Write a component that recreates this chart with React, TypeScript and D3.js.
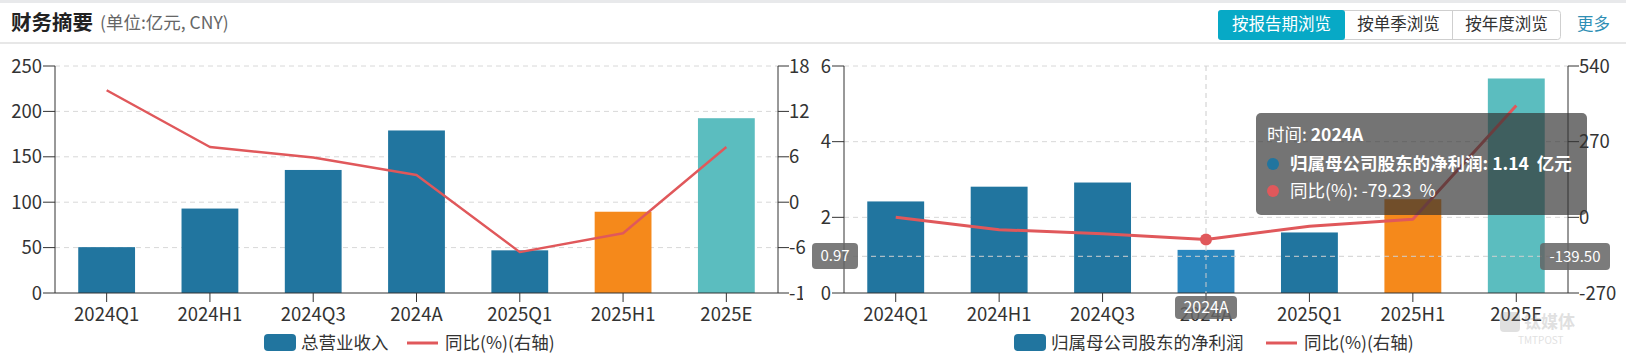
import React from "react";
import * as d3 from "d3";

const categories = ["2024Q1", "2024H1", "2024Q3", "2024A", "2025Q1", "2025H1", "2025E"];
const revenue = [50.5, 93, 135.5, 179, 47, 89.5, 192.5];
const revenueYoY = [14.8, 7.3, 5.9, 3.6, -6.6, -4.1, 7.3];
const profit = [2.42, 2.81, 2.92, 1.14, 1.6, 2.48, 5.67];
const profitYoY = [0, -44, -59, -79.23, -32, -7, 399];
const leftTicks = [0, 50, 100, 150, 200, 250];
const leftRTicks = [-12, -6, 0, 6, 12, 18];
const rightTicks = [0, 2, 4, 6];
const rightRTicks = [-270, 0, 270, 540];
const barColors = ["#21759f", "#21759f", "#21759f", "#21759f", "#21759f", "#f5891b", "#5bbdbf"];
const buttons = ["按报告期浏览", "按单季浏览", "按年度浏览"];

const FONT = "'Noto Sans CJK SC', 'Noto Sans', sans-serif";
const TOP = 66;
const BOT = 293;
const AX = 18.5;

function Panel(props: {
  x0: number; x1: number; bars: number[]; line: number[];
  lDomain: [number, number]; rDomain: [number, number];
  lTicks: number[]; rTicks: number[]; legend: string; legendX: number; lineLegendX: number;
  hover?: number; clipRight: number; lineWidth: number;
}) {
  const { x0, x1, bars, line, lDomain, rDomain, lTicks, rTicks, legend, legendX, lineLegendX, hover, clipRight, lineWidth } = props;
  const x = d3.scaleBand().domain(categories).range([x0, x1]).paddingInner(0).paddingOuter(0);
  const yL = d3.scaleLinear().domain(lDomain).range([BOT, TOP]);
  const yR = d3.scaleLinear().domain(rDomain).range([BOT, TOP]);
  const bw = x.bandwidth() * 0.55;
  const lineGen = d3.line<number>().x((_, i) => (x(categories[i]) as number) + x.bandwidth() / 2).y((d) => yR(d));
  const clipId = "clip" + x0;
  return (
    <g fontFamily={FONT}>
      <defs>
        <clipPath id={clipId}>
          <rect x={0} y={0} width={1626} height={282} />
          <rect x={0} y={282} width={clipRight} height={73} />
        </clipPath>
      </defs>
      {lTicks.filter((t) => t !== 0).map((t) => (
        <line key={"g" + t} x1={x0} x2={x1} y1={yL(t)} y2={yL(t)} stroke="#d8d8d8" strokeDasharray="5,4" />
      ))}
      {bars.map((v, i) => (
        <rect key={"b" + i} x={(x(categories[i]) as number) + (x.bandwidth() - bw) / 2} y={yL(v)} width={bw}
          height={BOT - yL(v)} fill={hover === i ? "#2a86bd" : barColors[i]} />
      ))}
      <path d={lineGen(line) || ""} fill="none" stroke="#e0585b" strokeWidth={lineWidth} strokeLinejoin="round" />
      {/* axes */}
      <line x1={x0} x2={x0} y1={TOP} y2={BOT} stroke="#333" />
      <line x1={x1} x2={x1} y1={TOP} y2={BOT} stroke="#333" />
      <line x1={x0} x2={x1} y1={BOT} y2={BOT} stroke="#333" />
      {lTicks.map((t) => (
        <g key={"l" + t}>
          <line x1={x0 - 12} x2={x0} y1={yL(t)} y2={yL(t)} stroke="#333" />
          <text x={x0 - 13} y={yL(t)} dy="0.36em" textAnchor="end" fontSize={AX} fill="#333">{t}</text>
        </g>
      ))}
      <g clipPath={`url(#${clipId})`}>
        {rTicks.map((t) => (
          <g key={"r" + t}>
            <line x1={x1} x2={x1 + 11} y1={yR(t)} y2={yR(t)} stroke="#333" />
            <text x={x1 + 11} y={yR(t)} dy="0.36em" textAnchor="start" fontSize={AX} fill="#333">{t}</text>
          </g>
        ))}
      </g>
      {categories.map((c) => {
        const cx = (x(c) as number) + x.bandwidth() / 2;
        return (
          <g key={"c" + c}>
            <line x1={cx} x2={cx} y1={BOT} y2={BOT + 9} stroke="#333" />
            <text x={cx} y={314.5} dy="0.36em" textAnchor="middle" fontSize={AX} fill="#333">{c}</text>
          </g>
        );
      })}
      {/* legend */}
      <rect x={legendX} y={334} width={32} height={17} rx={4} fill="#21759f" />
      <text x={legendX + 37} y={342.5} dy="0.36em" fontSize={17.5} fill="#333">{legend}</text>
      <line x1={lineLegendX} x2={lineLegendX + 31} y1={343} y2={343} stroke="#e0585b" strokeWidth={3} />
      <text x={lineLegendX + 38} y={342.5} dy="0.36em" fontSize={17.5} fill="#333">同比(%)(右轴)</text>
    </g>
  );
}

export default function App() {
  const rx0 = 844, rx1 = 1568;
  const xr = d3.scaleBand().domain(categories).range([rx0, rx1]);
  const yl = d3.scaleLinear().domain([0, 6]).range([BOT, TOP]);
  const yr = d3.scaleLinear().domain([-270, 540]).range([BOT, TOP]);
  const hi = 3;
  const hx = (xr(categories[hi]) as number) + xr.bandwidth() / 2;
  const cursorVal = 0.97;
  const cy = yl(cursorVal);
  const rightVal = -139.5;
  return (
    <div style={{ position: "absolute", left: 0, top: 0 }}>
      <svg width={1626} height={355} style={{ display: "block" }} fontFamily={FONT}>
        <rect x={0} y={0} width={1626} height={355} fill="#fff" />
        <rect x={0} y={0} width={1626} height={3} fill="#e8e9eb" />
        <text x={11} y={22.5} dy="0.36em" fontSize={20.5} fontWeight="bold" fill="#222">财务摘要</text>
        <text x={100} y={23} dy="0.36em" fontSize={17.5} fill="#666">(单位:亿元, CNY)</text>
        <line x1={0} x2={1626} y1={43} y2={43} stroke="#cfcfcf" />
        {/* buttons */}
        <rect x={1218.5} y={10.5} width={342} height={29} rx={3} fill="#fff" stroke="#cfcfcf" />
        <rect x={1218} y={10} width={127} height={30} rx={3} fill="#07a9c6" />
        <line x1={1452.5} x2={1452.5} y1={10.5} y2={39.5} stroke="#cfcfcf" />
        {buttons.map((b, i) => {
          const cxs = [1281.5, 1398.5, 1506.5];
          return (
            <text key={b} x={cxs[i]} y={24.5} dy="0.36em" textAnchor="middle" fontSize={16.5} fill={i === 0 ? "#fff" : "#333"}>{b}</text>
          );
        })}
        <text x={1577} y={24.5} dy="0.36em" fontSize={16.5} fill="#2f8fb5">更多</text>

        <Panel x0={55} x1={778} bars={revenue} line={revenueYoY} lDomain={[0, 250]} rDomain={[-12, 18]}
          lTicks={leftTicks} rTicks={leftRTicks} legend="总营业收入" legendX={264} lineLegendX={407}
          clipRight={803} lineWidth={2.4} />
        <Panel x0={rx0} x1={rx1} bars={profit} line={profitYoY} lDomain={[0, 6]} rDomain={[-270, 540]}
          lTicks={rightTicks} rTicks={rightRTicks} legend="归属母公司股东的净利润" legendX={1014} lineLegendX={1266}
          hover={hi} clipRight={1626} lineWidth={3} />

        {/* crosshair */}
        <line x1={hx} x2={hx} y1={TOP} y2={BOT} stroke="#ccc" strokeDasharray="5,4" />
        <line x1={rx0} x2={rx1} y1={cy} y2={cy} stroke="#d0d0d0" strokeDasharray="5,4" />
        <circle cx={hx} cy={yr(profitYoY[hi])} r={6} fill="#e0585b" />
        <rect x={812} y={243} width={46} height={26} rx={4} fill="rgba(100,100,100,0.85)" />
        <text x={835} y={256} dy="0.36em" textAnchor="middle" fontSize={15} fill="#fff">{cursorVal.toFixed(2)}</text>
        <rect x={1540} y={243} width={70} height={27} rx={4} fill="rgba(100,100,100,0.85)" />
        <text x={1575} y={256.5} dy="0.36em" textAnchor="middle" fontSize={15} fill="#fff">{rightVal.toFixed(2)}</text>
        <rect x={hx - 31} y={296} width={62} height={23} rx={4} fill="rgba(100,100,100,0.85)" />
        <text x={hx} y={307.5} dy="0.36em" textAnchor="middle" fontSize={16} fill="#fff">{categories[hi]}</text>

        {/* watermark */}
        <g opacity={0.25}>
          <rect x={1500} y={312} width={20} height={20} rx={4} fill="#888" />
          <text x={1524} y={322} dy="0.36em" fontSize={17} fontWeight="bold" fill="#888">钛媒体</text>
          <text x={1518} y={340} dy="0.36em" fontSize={10} fill="#888">TMTPOST</text>
        </g>

        {/* tooltip */}
        <rect x={1256} y={113} width={331} height={102} rx={5} fill="rgba(50,50,50,0.68)" />
        <text x={1267} y={135} dy="0.36em" fontSize={17.5} fill="#fff">
          时间: <tspan fontWeight="bold">{categories[hi]}</tspan>
        </text>
        <circle cx={1273} cy={164} r={6} fill="#21759f" />
        <text x={1290} y={164} dy="0.36em" fontSize={17.5} fontWeight="bold" fill="#fff">
          归属母公司股东的净利润: {profit[hi].toFixed(2)}{"\u00a0\u00a0"}亿元
        </text>
        <circle cx={1273} cy={191} r={6} fill="#e0585b" />
        <text x={1290} y={191} dy="0.36em" fontSize={17.5} fill="#fff">
          同比(%): {profitYoY[hi].toFixed(2)}{"\u00a0\u00a0"}%
        </text>
      </svg>
    </div>
  );
}
